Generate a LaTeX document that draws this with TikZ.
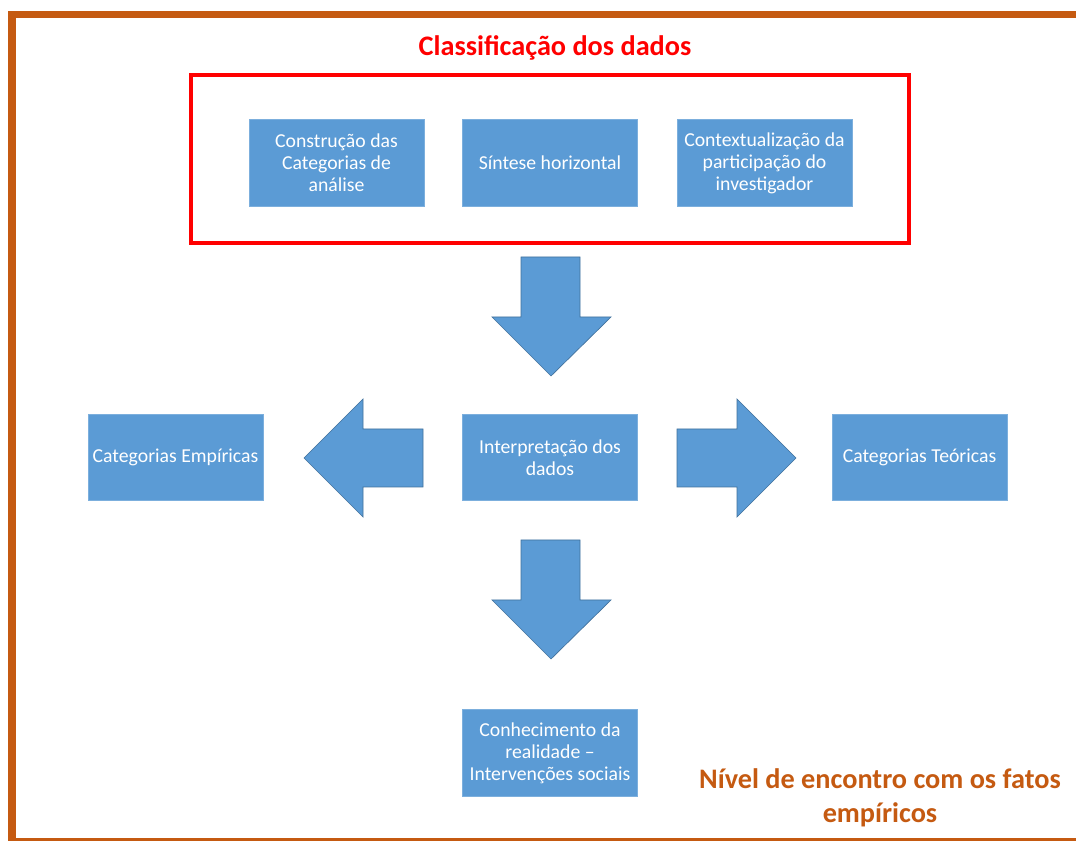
\documentclass[tikz,border=0pt]{standalone}
\usepackage{fontspec}
\setmainfont{Carlito}
\definecolor{boxblue}{HTML}{5B9BD5}
\definecolor{arrowedge}{HTML}{41719C}
\definecolor{frameorange}{HTML}{C55A11}
\definecolor{titlered}{HTML}{FF0000}
\begin{document}
\begin{tikzpicture}[x=0.75pt,y=-0.75pt,
  bluebox/.style={fill=boxblue,draw=boxblue!80!white,line width=0.6pt,minimum width=131.25pt,minimum height=65pt,
    align=center,text=white,inner sep=1pt,font=\fontsize{14.8}{16.5}\selectfont},
  blockarrow/.style={fill=boxblue,draw=arrowedge,line width=0.5pt,line join=miter}]
\useasboundingbox (0,0) rectangle (1076,841);
\clip (0,0) rectangle (1076,841);
\fill[white] (0,0) rectangle (1076,841);
% outer frame
\draw[frameorange,line width=5.6pt] (12,14.5) rectangle (1090,842);
% title
\node[text=titlered,font=\fontsize{21.2}{25}\selectfont\bfseries] (title) at (555,48) {Classificação dos dados};
% red frame
\draw[titlered,line width=3pt] (191,75) rectangle (909,243);
% top boxes
\node[bluebox] (b1) at (336.5,163) {Construção das\\Categorias de\\análise};
\node[bluebox] (b2) at (550,163) {Síntese horizontal};
\node[bluebox] (b3) at (764.5,163) {Contextualização da\\participação do\\investigador};
% middle row
\node[bluebox] (emp) at (175.5,457.5) {Categorias Empíricas};
\node[bluebox] (mid) at (550,457.5) {Interpretação dos\\dados};
\node[bluebox] (teo) at (919.5,457.5) {Categorias Teóricas};
% bottom box
\node[bluebox] (bot) at (550,753) {Conhecimento da\\realidade –\\Intervenções sociais};
% block arrows
\draw[blockarrow] (521,257) -- (580,257) -- (580,317) -- (611,317) -- (551,376) -- (492,317) -- (521,317) -- cycle;
\draw[blockarrow] (521,540) -- (580,540) -- (580,600) -- (611,600) -- (551,659) -- (492,600) -- (521,600) -- cycle;
\draw[blockarrow] (423,429) -- (423,487) -- (363,487) -- (363,517) -- (304,458) -- (363,399) -- (363,429) -- cycle;
\draw[blockarrow] (677,429) -- (677,487) -- (737,487) -- (737,517) -- (796,458) -- (737,399) -- (737,429) -- cycle;
% bottom-right label
\node[text=frameorange,align=center,font=\fontsize{21.2}{25.5}\selectfont\bfseries] (nivel) at (880,798) {Nível de encontro com os fatos\\empíricos};
\end{tikzpicture}
\end{document}
